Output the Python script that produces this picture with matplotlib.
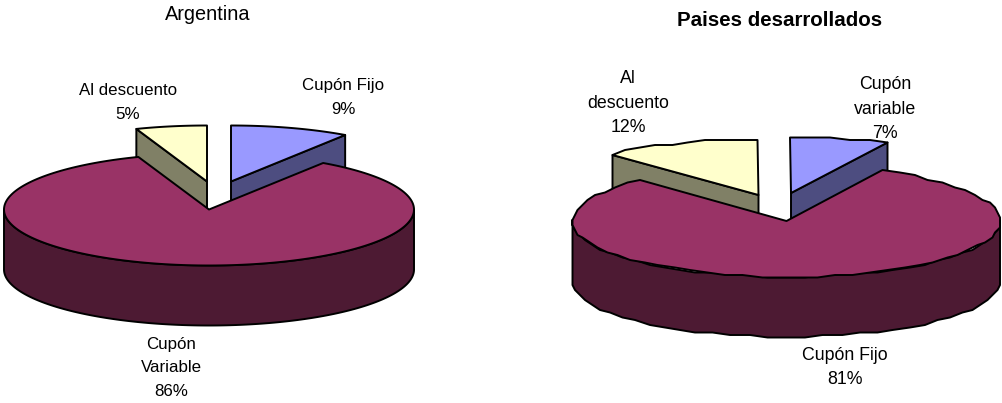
#!/usr/bin/env python3
"""Two exploded 3D-look pies: bond types in Argentina and developed countries."""

import matplotlib

matplotlib.use("Agg")
import matplotlib.pyplot as plt  # noqa: E402
import numpy as np  # noqa: E402
from matplotlib.patches import Polygon  # noqa: E402

plt.rcParams["font.family"] = ["Liberation Sans", "DejaVu Sans"]

ARG_TITLE = "Argentina"
ARG_LABELS = ["Cupón Fijo", "Cupón\nVariable", "Al descuento"]
ARG_VALUES = [9.4, 85.0, 5.6]
ARG_PCT = ["9%", "86%", "5%"]

DEV_TITLE = "Paises desarrollados"
DEV_LABELS = ["Cupón\nvariable", "Cupón Fijo", "Al\ndescuento"]
DEV_VALUES = [7.4, 80.6, 12.0]
DEV_PCT = ["7%", "81%", "12%"]

TOP_COLORS = ["#9999FF", "#993366", "#FFFFCC"]
SIDE_COLORS = ["#4D4D80", "#4D1A33", "#808066"]
DEPTH = 60
LW = 1.4


def rim(cx, cy, rx, ry, a0, a1, coarse=False):
    """Points on the ellipse, angles in degrees clockwise from 12 o'clock."""
    if coarse:
        # the original outline is a rough polyline
        n = max(int(round((a1 - a0) / 5)), 2) + 1
        a = np.radians(np.linspace(a0, a1, n))
        pts = np.column_stack([cx + rx * np.sin(a), cy - ry * np.cos(a)])
        return np.round(pts / 2.5) * 2.5
    a = np.radians(np.linspace(a0, a1, 200))
    return np.column_stack([cx + rx * np.sin(a), cy - ry * np.cos(a)])


def draw_pie(ax, values, center, radii, offsets, coarse=False):
    cx, cy = center
    rx, ry = radii
    edges = np.cumsum([0] + list(values)) * 3.6
    a_blue, a_main = edges[1], edges[2]

    def poly(pts, color):
        ax.add_patch(Polygon(pts, closed=True, facecolor=color,
                             edgecolor="black", linewidth=LW,
                             joinstyle="round"))

    # first slice, pulled out and partly hidden behind the big one
    dx, dy = offsets[0]
    x0, y0 = cx + dx, cy + dy
    arc = rim(x0, y0, rx, ry, 0, a_blue, coarse)
    poly([(x0, y0), arc[-1], arc[-1] + (0, DEPTH), (x0, y0 + DEPTH)], SIDE_COLORS[0])
    poly(np.vstack([[(x0, y0)], arc]), TOP_COLORS[0])

    # last slice, same thing on the left
    dx, dy = offsets[2]
    x0, y0 = cx + dx, cy + dy
    arc = rim(x0, y0, rx, ry, a_main, 360, coarse)
    poly([(x0, y0), arc[0], arc[0] + (0, DEPTH), (x0, y0 + DEPTH)], SIDE_COLORS[2])
    poly(np.vstack([[(x0, y0)], arc]), TOP_COLORS[2])

    # big slice: wall then top
    front = rim(cx, cy, rx, ry, 90, 270, coarse)
    poly(np.vstack([front, (front + (0, DEPTH))[::-1]]), SIDE_COLORS[1])
    poly(np.vstack([[(cx, cy)], rim(cx, cy, rx, ry, a_blue, a_main, coarse)]), TOP_COLORS[1])


def main():
    fig = plt.figure(figsize=(10.03, 4.03), dpi=100)
    ax = fig.add_axes([0, 0, 1, 1])
    ax.set_xlim(0, 1003)
    ax.set_ylim(403, 0)
    ax.axis("off")

    draw_pie(ax, ARG_VALUES, (209, 209.5), (205, 56),
             [(22, -28), None, (-2, -28)])
    draw_pie(ax, DEV_VALUES, (786.5, 221), (214, 56),
             [(4.5, -28), None, (-28, -26)], coarse=True)

    kw = dict(ha="center", va="center", color="black")
    left = dict(fontsize=12.2, linespacing=1.72, **kw)
    right = dict(fontsize=12.8, linespacing=1.58, **kw)
    ax.text(207.5, 14, ARG_TITLE, fontsize=14.3, **kw)
    ax.text(343, 97.5, f"{ARG_LABELS[0]}\n{ARG_PCT[0]}", **left)
    ax.text(171, 368, f"{ARG_LABELS[1]}\n{ARG_PCT[1]}", **left)
    ax.text(128, 102.5, f"{ARG_LABELS[2]}\n{ARG_PCT[2]}", **left)

    ax.text(780, 20, DEV_TITLE, fontsize=14.8, fontweight="bold", **kw)
    ax.text(885, 109, f"{DEV_LABELS[0]}\n{DEV_PCT[0]}", **right)
    ax.text(845, 367.5, f"{DEV_LABELS[1]}\n{DEV_PCT[1]}", **right)
    ax.text(628, 103, f"{DEV_LABELS[2]}\n{DEV_PCT[2]}", **right)

    fig.savefig("out.png", dpi=100)
    plt.close(fig)


if __name__ == "__main__":
    main()
